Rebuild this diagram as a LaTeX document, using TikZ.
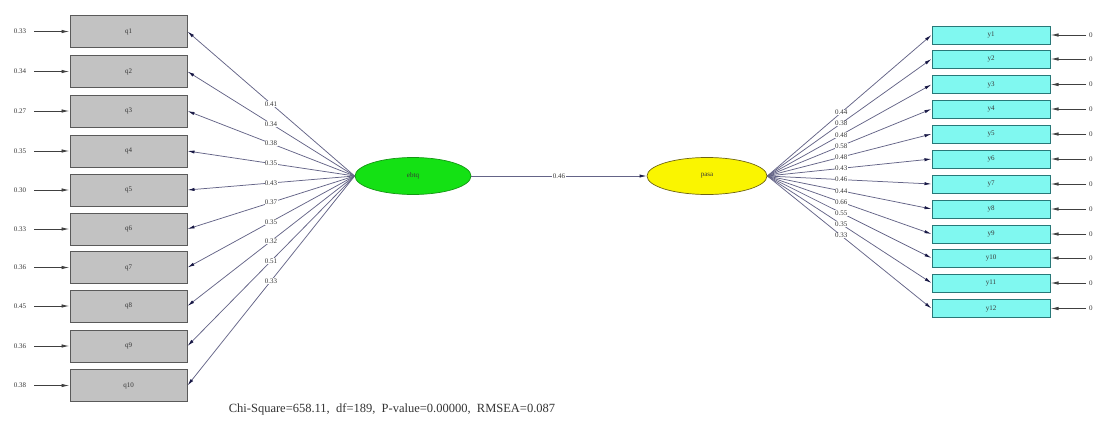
\documentclass[tikz,border=0pt]{standalone}
\usepackage{fontspec}
\setmainfont{Liberation Serif}
\usetikzlibrary{arrows.meta,shapes.geometric}
\definecolor{lgray}{RGB}{194,194,194}
\definecolor{lgrayb}{RGB}{90,90,90}
\definecolor{cyanf}{RGB}{128,248,240}
\definecolor{cyanb}{RGB}{40,120,120}
\definecolor{greenf}{RGB}{20,225,20}
\definecolor{greenb}{RGB}{20,150,20}
\definecolor{yellowf}{RGB}{250,245,0}
\definecolor{yellowb}{RGB}{110,100,20}
\definecolor{fanline}{RGB}{100,100,135}
\definecolor{tipcol}{RGB}{25,25,70}
\definecolor{txt}{RGB}{55,55,55}
\begin{document}
\begin{tikzpicture}[x=1pt,y=-1pt,
  font=\fontsize{7}{8}\selectfont,
  lbox/.style={draw=lgrayb, fill=lgray, minimum width=117pt, minimum height=32pt, inner sep=0pt, line width=1pt, text=txt},
  rbox/.style={draw=cyanb, fill=cyanf, minimum width=118pt, minimum height=18pt, inner sep=0pt, line width=1pt, text=txt},
  lat/.style={ellipse, line width=0.7pt, minimum width=116pt, minimum height=37pt, inner sep=0pt, text=txt},
  fan/.style={draw=fanline, line width=0.75pt, -{Latex[length=7pt,width=3.2pt]}, arrows={[color=tipcol]}},
  errarr/.style={draw=black!75, line width=0.9pt, -{Latex[length=8pt,width=3.5pt]}},
  val/.style={fill=white, inner sep=0.4pt, text=txt, font=\fontsize{7}{8}\selectfont},
  eval/.style={inner sep=0pt, text=txt}
]
\useasboundingbox (0,0) rectangle (1093,442);

% latent variables
\node[lat, draw=greenb, fill=greenf] (G) at (413,176) {ebtq};
\node[lat, draw=yellowb, fill=yellowf, minimum width=120pt] (Y) at (707,176) {pasa};
\draw[fan] (G.east) -- node[val, pos=0.5] {0.46} (Y.west);

% left indicators
\foreach \i/\y/\lv/\ev in {1/31.5/0.41/0.33, 2/71.5/0.34/0.34, 3/111/0.38/0.27, 4/151/0.35/0.35, 5/190/0.43/0.30, 6/229/0.37/0.33, 7/267.5/0.35/0.36, 8/306/0.32/0.45, 9/346/0.51/0.36, 10/385.5/0.33/0.38}{
  \node[lbox] (L\i) at (128.5,\y) {q\i};
  \node[eval] (eL\i) at (20,\y) {\ev};
  \draw[errarr, shorten <=8pt] (eL\i.east) -- (L\i.west);
  \draw[fan] (G.west) -- node[val, pos=0.5] {\lv} (L\i.east);
}

% right indicators
\foreach \i/\y/\lv in {1/35/0.44, 2/59/0.38, 3/84.5/0.48, 4/109/0.58, 5/134/0.48, 6/159/0.43, 7/184/0.46, 8/209/0.44, 9/234/0.66, 10/258/0.55, 11/283/0.35, 12/308.5/0.33}{
  \node[rbox] (R\i) at (991,\y) {y\i};
  \node[eval, anchor=west] (eR\i) at (1089,\y) {0.41};
  \draw[errarr, shorten <=3pt] (eR\i.west) -- (R\i.east);
  \draw[fan] (Y.east) -- node[val, pos=0.45] {\lv} (R\i.west);
}

% fit statistics
\node[text=black!80, font=\fontsize{12.5}{14}\selectfont] (fit) at (392,409) {Chi-Square=658.11,\ \ df=189,\ \ P-value=0.00000,\ \ RMSEA=0.087};
\end{tikzpicture}
\end{document}
